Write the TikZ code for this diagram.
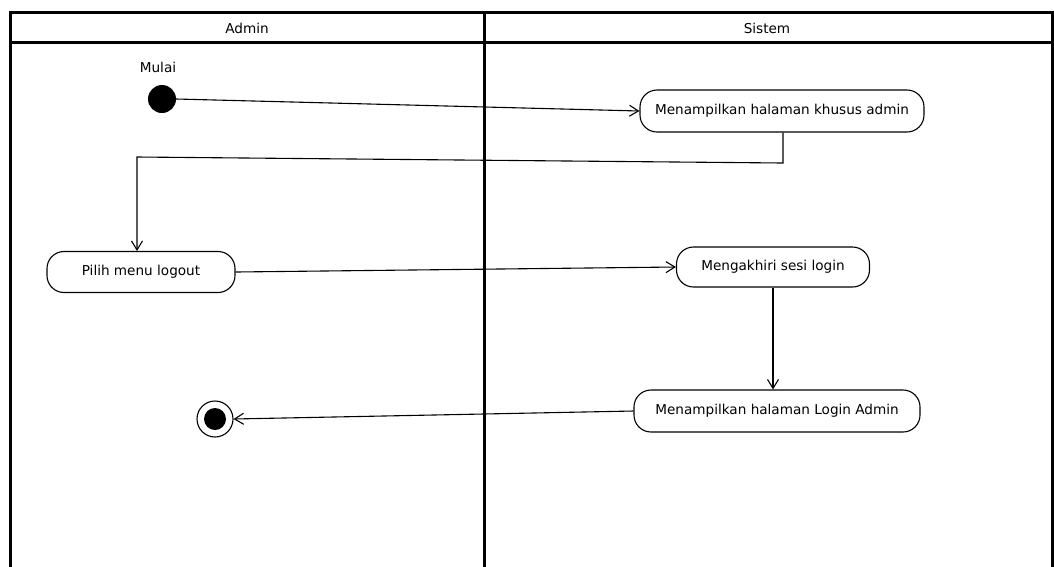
\documentclass[tikz,border=0pt]{standalone}
\usepackage{fontspec}
\setmainfont{DejaVu Sans}
\usetikzlibrary{arrows.meta}
\begin{document}
\begin{tikzpicture}[x=1pt,y=-1pt,
  lane/.style={line width=3pt},
  flow/.style={line width=1.1pt,-{Straight Barb[length=9pt,width=11pt,line width=1.1pt]}},
  act/.style={draw,line width=1.1pt,rounded corners=17pt,font=\fontsize{13.6}{16}\selectfont,inner sep=0pt},
  lanetitle/.style={font=\fontsize{13.6}{16}\selectfont}]
\useasboundingbox (0,0) rectangle (1054,566);
% swimlane frame
\draw[lane] (10,600) -- (10,12) -- (1052,12) -- (1052,600);
\draw[lane] (10,42) -- (1052,42);
\draw[lane] (484,12) -- (484,600);
\node[lanetitle] (hAdmin) at (247,28) {Admin};
\node[lanetitle] (hSistem) at (767,28) {Sistem};
% start and end states
\node[circle,fill=black,minimum size=28pt,inner sep=0pt] (start) at (162,99) {};
\node[lanetitle,anchor=south] (mulai) at (158,76) {Mulai};
\node[circle,draw,line width=1.1pt,minimum size=36pt,inner sep=0pt] (final) at (215,419) {};
\node[circle,fill=black,minimum size=22pt,inner sep=0pt] (finalin) at (215,419) {};
% actions
\node[act,minimum width=284pt,minimum height=42pt] (a1) at (782,111) {Menampilkan halaman khusus admin};
\node[act,minimum width=188pt,minimum height=41pt] (a2) at (141,272) {Pilih menu logout};
\node[act,minimum width=193pt,minimum height=40pt] (a3) at (773,267) {Mengakhiri sesi login};
\node[act,minimum width=286pt,minimum height=42pt] (a4) at (777,411) {Menampilkan halaman Login Admin};
% bend points
\coordinate (c1) at (783,163);
\coordinate (c2) at (137,157);
% transitions
\draw[flow] (start.east) -- (a1.west);
\draw[flow] (a1.south -| c1) -- (c1) -- (c2) -- (c2 |- a2.north);
\draw[flow] (a2.east) -- (a3.west);
\draw[flow] (a3.south) -- (a3.south |- a4.north);
\draw[flow] (a4.west) -- (final.east);
\end{tikzpicture}
\end{document}
